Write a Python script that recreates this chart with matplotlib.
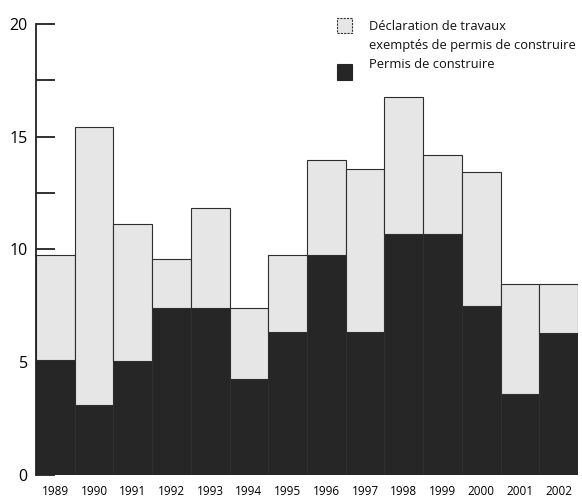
import matplotlib
matplotlib.use("Agg")
import matplotlib.pyplot as plt
from matplotlib.patches import Rectangle
import numpy as np

years = ["1989", "1990", "1991", "1992", "1993", "1994", "1995", "1996",
         "1997", "1998", "1999", "2000", "2001", "2002"]
permis = [5.1, 3.1, 5.05, 7.4, 7.4, 4.25, 6.35, 9.75, 6.35, 10.7, 10.7, 7.5, 3.6, 6.3]
total = [9.75, 15.45, 11.15, 9.6, 11.85, 7.4, 9.75, 13.95, 13.55, 16.75, 14.2, 13.45, 8.45, 8.45]
declaration = [t - p for t, p in zip(total, permis)]

legend_labels = ["Déclaration de travaux\nexemptés de permis de construire", "Permis de construire"]
yticks = [0, 5, 10, 15, 20]

plt.rcParams['font.family'] = ['Open Sans', 'DejaVu Sans']

fig = plt.figure(figsize=(5.82, 5.00), dpi=100)
ax = fig.add_axes([36/582, 25/500, 542/582, 451/500])

x = np.arange(len(years))
black = "#262626"
light = "#e6e6e6"
edge = "#2e2e2e"
ax.bar(x, permis, width=1.0, color=black, edgecolor=edge, linewidth=0.8)
ax.bar(x, declaration, bottom=permis, width=1.0, color=light, edgecolor=edge, linewidth=0.8)

ax.set_xlim(-0.5, len(years) - 0.5)
ax.set_ylim(0, 20)
ax.set_axisbelow(True)
for s in ["top", "right", "bottom"]:
    ax.spines[s].set_visible(False)
ax.spines["left"].set_linewidth(1.3)
ax.spines["left"].set_color("#222222")

ax.set_yticks(yticks)
ax.set_yticks(np.arange(2.5, 20, 5), minor=True)
ax.tick_params(axis="y", which="both", direction="in", length=14, width=1.3,
               color="#222222", labelsize=11.5, pad=-8)
ax.tick_params(axis="y", which="major", pad=6)
ax.set_xticks(x)
ax.set_xticklabels(years)
ax.tick_params(axis="x", length=0, labelsize=8.5, pad=7)

# legend
leg_x0 = 337 / 582
fig.patches.append(Rectangle((leg_x0, 1 - 33/500), 15/582, 15/500, transform=fig.transFigure,
                             facecolor=light, edgecolor="#333333", linewidth=0.8, linestyle=(0, (2, 1))))
fig.patches.append(Rectangle((leg_x0, 1 - 80/500), 15/582, 16/500, transform=fig.transFigure,
                             facecolor=black, edgecolor=black, linewidth=0.8))
fig.text(369/582, 1 - 26/500, "Déclaration de travaux", fontsize=9.3, va="center", ha="left", color="#111111")
fig.text(369/582, 1 - 45/500, "exemptés de permis de construire", fontsize=9.3, va="center", ha="left", color="#111111")
fig.text(369/582, 1 - 65/500, legend_labels[1], fontsize=9.3, va="center", ha="left", color="#111111")

fig.savefig("out.png", dpi=100)
